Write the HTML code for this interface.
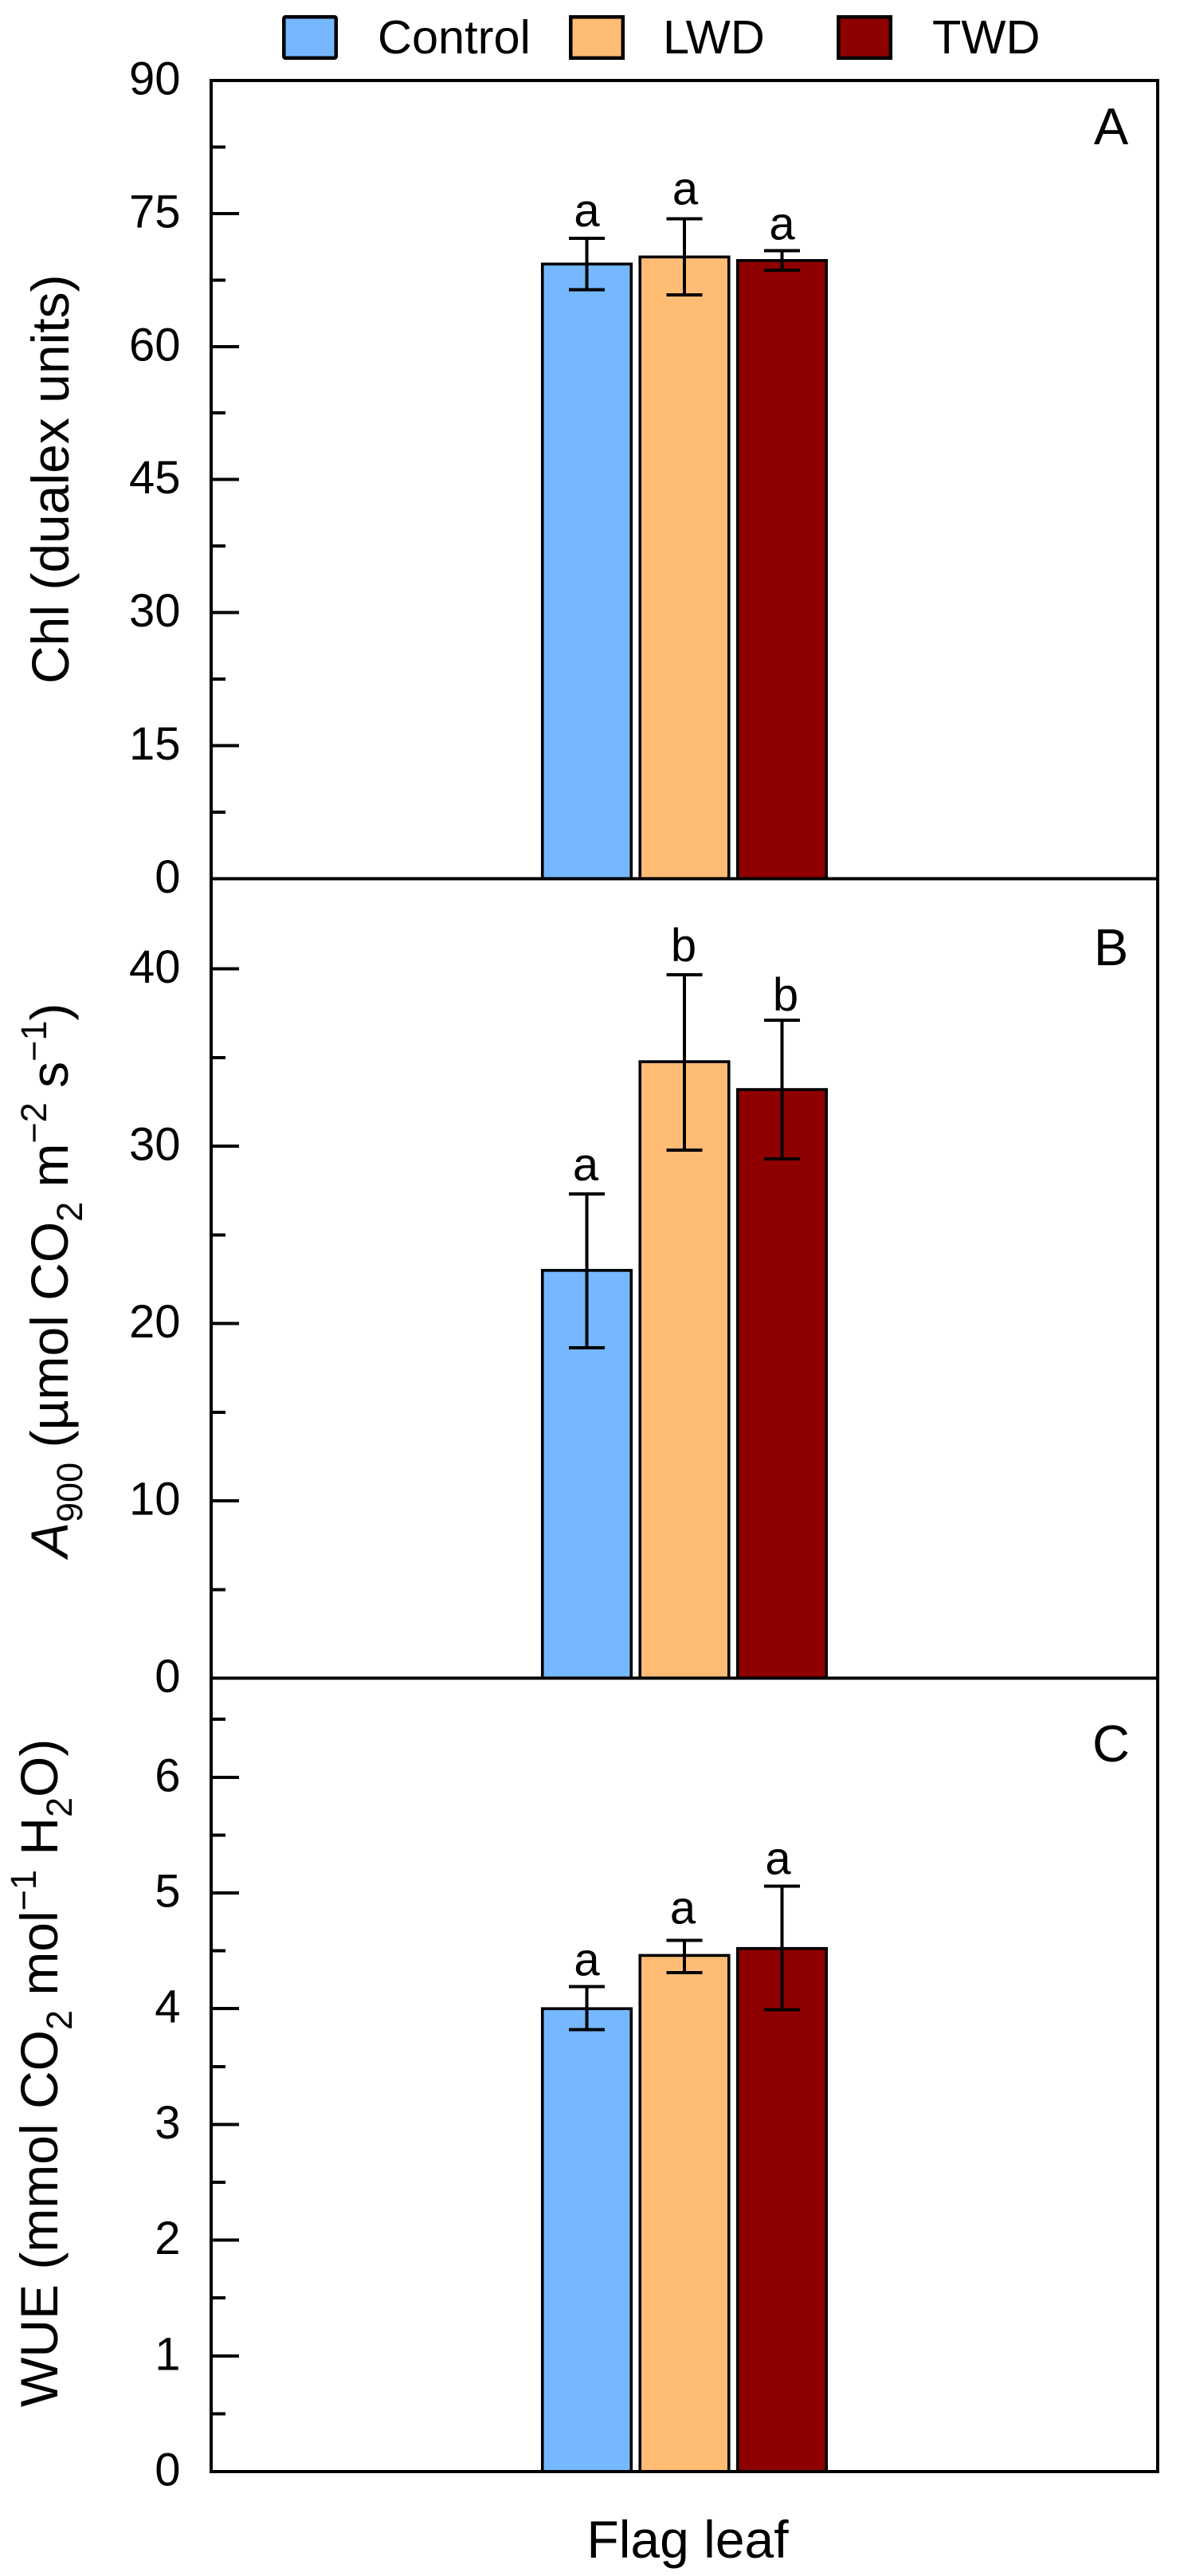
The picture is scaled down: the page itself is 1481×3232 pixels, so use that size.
<!DOCTYPE html>
<html lang="en">
<head>
<meta charset="utf-8">
<title>Flag leaf bar charts</title>
<style>
html,body{margin:0;padding:0;background:#fff;}
svg{display:block;font-family:"Liberation Sans",Arial,sans-serif;fill:#000;}
</style>
</head>
<body>
<svg id="chart" xmlns="http://www.w3.org/2000/svg" width="1481" height="3232" viewBox="0 0 1481 3232">
  <rect x="0" y="0" width="1481" height="3232" fill="#fff"/>
  <g>
    <g>
      <rect x="356.3" y="21.3" width="65.5" height="51.5" rx="2" fill="#75B8FF" stroke="#000" stroke-width="4.5"/>
      <text x="474" y="67" font-size="59.5">Control</text>
    </g>
    <g>
      <rect x="716.3" y="21.3" width="65.5" height="51.5" fill="#FFBC75" stroke="#000" stroke-width="4.5"/>
      <text x="832" y="67" font-size="59.5">LWD</text>
    </g>
    <g>
      <rect x="1052.3" y="21.3" width="65.5" height="51.5" fill="#8F0000" stroke="#000" stroke-width="4.5"/>
      <text x="1170" y="67" font-size="59.5">TWD</text>
    </g>
  </g>
  <text transform="translate(86,858) rotate(-90)" font-size="66">Chl (dualex units)</text>
  <text transform="translate(85,1954) rotate(-90)" font-size="66"><tspan font-style="italic">A</tspan><tspan font-size="45" dy="18">900</tspan><tspan dy="-18"> (µmol CO</tspan><tspan font-size="45" dy="18">2</tspan><tspan dy="-18"> m</tspan><tspan font-size="45" dy="-27">−2</tspan><tspan dy="27"> s</tspan><tspan font-size="45" dy="-27">−1</tspan><tspan dy="27">)</tspan></text>
  <text transform="translate(72,3020) rotate(-90)" font-size="66">WUE (mmol CO<tspan font-size="45" dy="18">2</tspan><tspan dy="-18"> mol</tspan><tspan font-size="45" dy="-27">−1</tspan><tspan dy="27"> H</tspan><tspan font-size="45" dy="18">2</tspan><tspan dy="-18">O)</tspan></text>
  <text x="863" y="3209" font-size="66" text-anchor="middle">Flag leaf</text>
  <g id="panels"></g>
</svg>
<script>
// Chart data
const categories = ['Control', 'LWD', 'TWD'];
const barColors = ['#75B8FF', '#FFBC75', '#8F0000'];

const chlValues = [69.3, 70.1, 69.7];
const chlErrHigh = [72.2, 74.4, 70.8];
const chlErrLow = [66.4, 65.8, 68.6];
const chlLetters = ['a', 'a', 'a'];
const chlMajorTicks = [0, 15, 30, 45, 60, 75, 90];
const chlMinorTicks = [7.5, 22.5, 37.5, 52.5, 67.5, 82.5];

const a900Values = [23.0, 34.77, 33.2];
const a900ErrHigh = [27.31, 39.67, 37.11];
const a900ErrLow = [18.63, 29.78, 29.29];
const a900Letters = ['a', 'b', 'b'];
const a900MajorTicks = [0, 10, 20, 30, 40];
const a900MinorTicks = [5, 15, 25, 35];

const wueValues = [4.0, 4.46, 4.52];
const wueErrHigh = [4.19, 4.59, 5.06];
const wueErrLow = [3.82, 4.31, 3.99];
const wueLetters = ['a', 'a', 'a'];
const wueMajorTicks = [0, 1, 2, 3, 4, 5, 6];
const wueMinorTicks = [0.5, 1.5, 2.5, 3.5, 4.5, 5.5, 6.5];

const NS = 'http://www.w3.org/2000/svg';
const plotLeft = 265;
const plotRight = 1453;
const barStep = 122.5;
const barCenter = 859;
const barWidth = 111.5;
const capHalf = 22.5;
const root = document.getElementById('panels');

function mk(tag, attrs, parent) {
  const e = document.createElementNS(NS, tag);
  for (const k in attrs) e.setAttribute(k, attrs[k]);
  parent.appendChild(e);
  return e;
}

function xBand(i) {
  return barCenter + (i - (categories.length - 1) / 2) * barStep;
}

function drawPanel(p) {
  const y = v => p.bottom - (v / p.max) * (p.bottom - p.top);

  const g = mk('g', {}, root);
  
  

  categories.forEach((cat, i) => {
    const cx = xBand(i);
    const bar = mk('rect', {
      x: cx - barWidth / 2, y: y(p.values[i]), width: barWidth,
      height: p.bottom - y(p.values[i]), fill: barColors[i],
      stroke: '#000', 'stroke-width': 3.6
    }, g);
    
    

    const err = mk('path', {
      d: 'M' + cx + ' ' + y(p.errHigh[i]) + 'V' + y(p.errLow[i]) +
         'M' + (cx - capHalf) + ' ' + y(p.errHigh[i]) + 'H' + (cx + capHalf) +
         'M' + (cx - capHalf) + ' ' + y(p.errLow[i]) + 'H' + (cx + capHalf),
      fill: 'none', stroke: '#000', 'stroke-width': 4, 'shape-rendering': 'crispEdges'
    }, g);
    
    

    const sig = mk('text', {
      x: cx + p.letterDx[i], y: y(p.errHigh[i]) - p.letterGap[i], 'font-size': 58, 'text-anchor': 'middle'
    }, g);
    sig.textContent = p.letters[i];
    
    
  });

  const frame = mk('rect', {
    x: plotLeft, y: p.top, width: plotRight - plotLeft, height: p.bottom - p.top,
    fill: 'none', stroke: '#000', 'stroke-width': 4, 'shape-rendering': 'crispEdges'
  }, g);
  
  

  p.minor.forEach(v => {
    const t = mk('line', {
      x1: plotLeft, x2: plotLeft + 18, y1: y(v), y2: y(v), stroke: '#000', 'stroke-width': 4, 'shape-rendering': 'crispEdges'
    }, g);
    
    
  });

  p.major.forEach(v => {
    if (v !== p.max) {
      const t = mk('line', {
        x1: plotLeft, x2: plotLeft + (v === 0 ? 18 : 35), y1: y(v), y2: y(v), stroke: '#000', 'stroke-width': 4, 'shape-rendering': 'crispEdges'
      }, g);
      
      
    }
    const lab = mk('text', {
      x: 226.5, y: y(v) + 17.5, 'font-size': 58, 'text-anchor': 'end'
    }, g);
    lab.textContent = String(v);
    
    
  });

  const letter = mk('text', {
    x: 1394.5, y: p.labelBaseline, 'font-size': 65, 'text-anchor': 'middle'
  }, g);
  letter.textContent = p.label;
  
  
}

drawPanel({ key: 'chl', label: 'A', labelBaseline: 181, top: 101, bottom: 1102.3, max: 90,
  values: chlValues, errHigh: chlErrHigh, errLow: chlErrLow, letters: chlLetters,
  major: chlMajorTicks, minor: chlMinorTicks, letterGap: [15, 18, 14], letterDx: [0, 1, 0] });
drawPanel({ key: 'a900', label: 'B', labelBaseline: 1211, top: 1102.3, bottom: 2105.5, max: 45.1,
  values: a900Values, errHigh: a900ErrHigh, errLow: a900ErrLow, letters: a900Letters,
  major: a900MajorTicks, minor: a900MinorTicks, letterGap: [17, 17, 12], letterDx: [-1.5, -1, 4.5] });
drawPanel({ key: 'wue', label: 'C', labelBaseline: 2210, top: 2105.5, bottom: 3101, max: 6.856,
  values: wueValues, errHigh: wueErrHigh, errLow: wueErrLow, letters: wueLetters,
  major: wueMajorTicks, minor: wueMinorTicks, letterGap: [14, 21, 15], letterDx: [0, -2, -5] });
</script>
</body>
</html>
